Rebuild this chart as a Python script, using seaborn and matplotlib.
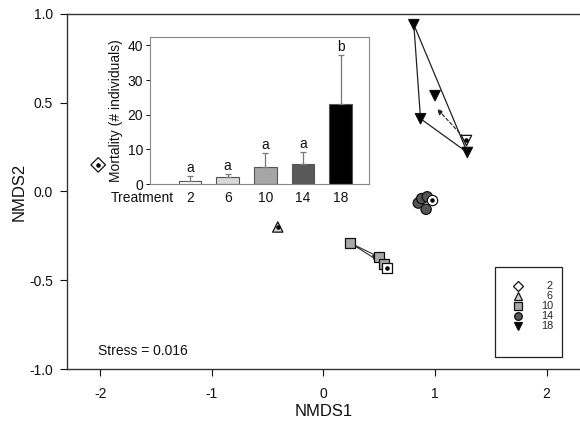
import numpy as np
import pandas as pd
import matplotlib
matplotlib.use("Agg")
import matplotlib.pyplot as plt
import matplotlib.transforms as mtransforms
import seaborn as sns
from matplotlib.lines import Line2D
from matplotlib.patches import Rectangle

# NMDS sample scores per treatment
treat2X = [-2.02]
treat2Y = [0.15]
treat6X = [-0.41]
treat6Y = [-0.20]
treat10X = [0.24, 0.50, 0.54]
treat10Y = [-0.29, -0.37, -0.41]
treat14X = [0.85, 0.88, 0.92, 0.93]
treat14Y = [-0.065, -0.04, -0.10, -0.03]
treat18X = [0.81, 0.87, 1.00, 1.29]
treat18Y = [0.94, 0.41, 0.54, 0.22]

# group centroids (open markers with a dot)
centroidTreat = ["2", "6", "10", "14", "18"]
centroidX = [-2.02, -0.41, 0.57, 0.97, 1.28]
centroidY = [0.15, -0.20, -0.43, -0.05, 0.29]

# trajectory outlines
hull10X = [0.24, 0.50, 0.54, 0.24]
hull10Y = [-0.29, -0.37, -0.41, -0.29]
hull18X = [0.81, 0.87, 1.29, 0.81]
hull18Y = [0.94, 0.41, 0.22, 0.94]

# dashed arrows: centroid -> tip
arrowFromX = [0.57, 1.28]
arrowFromY = [-0.43, 0.29]
arrowToX = [0.43, 1.02]
arrowToY = [-0.355, 0.465]

# inset bar chart
barTreat = ["2", "6", "10", "14", "18"]
mortality = [1.0, 2.0, 4.8, 5.9, 23.0]
mortalityErr = [1.3, 0.9, 4.2, 3.2, 14.1]
sigLetters = ["a", "a", "a", "a", "b"]

legendLabels = ["2", "6", "10", "14", "18"]

markerMap = {"2": "D", "6": "^", "10": "s", "14": "o", "18": "v"}
fillMap = {"2": "white", "6": "#d4d4d4", "10": "#a8a8a8", "14": "#555555", "18": "black"}
barColors = ["white", "#d9d9d9", "#a6a6a6", "#595959", "black"]

sns.set_theme(style="white")
plt.rcParams["font.family"] = ["Liberation Sans", "DejaVu Sans"]
plt.rcParams["axes.unicode_minus"] = False

fig = plt.figure(figsize=(5.8, 4.24), dpi=100)
ax = fig.add_axes([0.1155, 0.1297, 0.8845, 0.8373])

# outlines and arrows
ax.plot(hull10X, hull10Y, color="#333333", lw=0.8, zorder=2)
ax.plot(hull18X, hull18Y, color="#222222", lw=0.9, zorder=2)
for x0, y0, x1, y1 in zip(arrowFromX, arrowFromY, arrowToX, arrowToY):
    ax.annotate("", xy=(x1, y1), xytext=(x0, y0),
                arrowprops=dict(arrowstyle="-|>", linestyle=(0, (3, 2)), color="#222222",
                                lw=0.8, mutation_scale=8, shrinkA=3, shrinkB=0),
                zorder=2)

pts = pd.DataFrame({
    "NMDS1": treat2X + treat6X + treat10X + treat14X + treat18X,
    "NMDS2": treat2Y + treat6Y + treat10Y + treat14Y + treat18Y,
    "Treatment": (["2"] * len(treat2X) + ["6"] * len(treat6X) + ["10"] * len(treat10X)
                  + ["14"] * len(treat14X) + ["18"] * len(treat18X)),
})
sns.scatterplot(data=pts, x="NMDS1", y="NMDS2", hue="Treatment", style="Treatment",
                palette=fillMap, markers=markerMap, s=55, edgecolor="#111111",
                linewidth=0.9, legend=False, ax=ax, zorder=3)

cen = pd.DataFrame({"NMDS1": centroidX, "NMDS2": centroidY, "Treatment": centroidTreat})
openCen = cen[cen["Treatment"].isin(["10", "14", "18"])]
for treat, grp in openCen.groupby("Treatment"):
    ax.scatter(grp["NMDS1"], grp["NMDS2"], marker=markerMap[treat], s=55,
               facecolor="white", edgecolor="#111111", linewidth=0.9, zorder=4)
ax.scatter(cen["NMDS1"], cen["NMDS2"], marker="o", s=5, color="black", zorder=5)

ax.set_xlim(-2.3, 2.3)
ax.set_ylim(-1.0, 1.0)
ax.set_xticks([-2, -1, 0, 1, 2])
ax.set_yticks([-1.0, -0.5, 0.0, 0.5, 1.0])
ax.set_yticklabels(["-1.0", "-0.5", "0.0", "0.5", "1.0"])
ax.tick_params(axis="x", direction="out", length=5, width=0.8, pad=8, labelsize=10,
               colors="#111111", bottom=True)
ax.tick_params(axis="y", direction="out", length=5, width=0.8, pad=5, labelsize=10,
               colors="#111111", left=True)
ax.set_xlabel("NMDS1", fontsize=12, labelpad=2, color="#111111")
ax.set_ylabel("NMDS2", fontsize=12, labelpad=2, color="#111111")
for sp in ax.spines.values():
    sp.set_color("#333333")
    sp.set_linewidth(1.0)
ax.spines["right"].set_visible(False)

ax.text(-2.02, -0.90, "Stress = 0.016", fontsize=10, va="center", ha="left", color="#111111")

# legend
ax.add_patch(Rectangle((0.834, 0.034), 0.131, 0.253, transform=ax.transAxes,
                       facecolor="white", edgecolor="#222222", lw=0.9, zorder=6))
handles = [Line2D([], [], linestyle="none", marker=markerMap[t], markersize=5.5,
                  markerfacecolor=fillMap[t], markeredgecolor="#111111", markeredgewidth=0.9)
           for t in legendLabels]
padded = ["  " + t if len(t) == 1 else t for t in legendLabels]
leg = ax.legend(handles, padded, loc="upper left", bbox_to_anchor=(0.8686, 0.2468),
                frameon=False, fontsize=7.8, handlelength=1.0, handletextpad=1.6,
                labelspacing=0.0, borderpad=0.0, borderaxespad=0.0)
leg.set_zorder(7)

# inset bar chart
inset = fig.add_axes([0.2586, 0.566, 0.3776, 0.3467])
bars = pd.DataFrame({"Treatment": barTreat, "Mortality": mortality})
sns.barplot(data=bars, x="Treatment", y="Mortality", hue="Treatment", order=barTreat,
            hue_order=barTreat, palette=barColors, width=0.6, edgecolor="#555555",
            linewidth=0.8, legend=False, ax=inset)
inset.errorbar(np.arange(len(barTreat)), mortality,
               yerr=[np.zeros(len(barTreat)), mortalityErr], fmt="none",
               ecolor="#777777", elinewidth=0.9, capsize=2.5, capthick=0.9, zorder=3)
for i, (m, e, letter) in enumerate(zip(mortality, mortalityErr, sigLetters)):
    inset.text(i, m + e + 0.3, letter, ha="center", va="bottom", fontsize=10, color="#111111")

inset.set_xlim(-1.06, 4.75)
inset.set_ylim(0, 42.4)
inset.set_yticks([0, 10, 20, 30, 40])
inset.tick_params(axis="x", length=0, pad=5, labelsize=10, colors="#111111")
inset.tick_params(axis="y", direction="out", length=3, width=0.7, pad=2, labelsize=10,
                  colors="#111111", left=True)
inset.set_xlabel("")
inset.set_ylabel("Mortality (# individuals)", fontsize=10, labelpad=3, color="#111111")
for sp in inset.spines.values():
    sp.set_color("#888888")
    sp.set_linewidth(0.8)
trans = mtransforms.blended_transform_factory(inset.transData, inset.transAxes)
inset.text(-0.42, -0.095, "Treatment", transform=trans, ha="right", va="center",
           fontsize=10, color="#111111")

fig.savefig("out.png", dpi=100)
plt.close(fig)
